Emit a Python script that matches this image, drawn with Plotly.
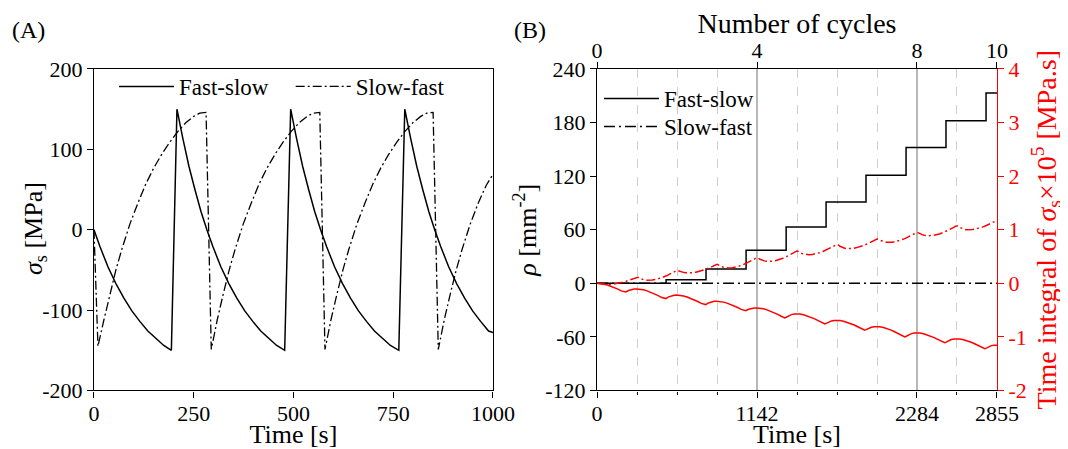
import plotly.graph_objects as go

# ---------------- Panel A data: sigma_s [MPa] vs time [s] ----------------
fs_time = [0, 15, 35, 55, 75, 95, 115, 135, 155, 175, 194,
           208, 223, 238, 253, 268, 283, 298, 318, 338, 358, 378, 398, 418, 438, 458, 478,
           493, 508, 523, 538, 553, 568, 583, 603, 623, 643, 663, 683, 703, 723, 743, 764,
           779, 794, 809, 824, 839, 854, 869, 889, 909, 929, 949, 969, 989, 1000]
fs_sigma = [0, -21, -46, -67, -85, -101, -114, -126, -135, -144, -150,
            150, 113, 79, 50, 23, 0, -21, -46, -67, -85, -101, -114, -126, -135, -144, -150,
            150, 113, 79, 50, 23, 0, -21, -46, -67, -85, -101, -114, -126, -135, -144, -150,
            150, 113, 79, 50, 23, 0, -21, -46, -67, -85, -101, -114, -126, -128]

sf_time = [0, 10, 25, 40, 55, 70, 90, 110, 130, 150, 170, 190, 210, 230, 250, 265, 275, 281,
           294, 309, 324, 339, 354, 374, 394, 414, 434, 454, 474, 494, 514, 534, 549, 559, 566,
           579, 594, 609, 624, 639, 659, 679, 699, 719, 739, 759, 779, 799, 819, 834, 844, 850,
           863, 878, 893, 908, 923, 943, 963, 983, 1000]
sf_sigma = [0, -145, -112, -80, -50, -24, 7, 33, 57, 77, 94, 109, 122, 133, 141, 145, 146, 146,
            -149, -112, -80, -50, -24, 7, 33, 57, 77, 94, 109, 122, 133, 141, 145, 146, 146,
            -149, -112, -80, -50, -24, 7, 33, 57, 77, 94, 109, 122, 133, 141, 145, 146, 146,
            -149, -112, -80, -50, -24, 7, 33, 55, 69]

# ---------------- Panel B data ----------------
# dislocation density rho [mm^-2] (step curve), fast-slow
rho_fs_time = [0, 493, 778, 1064, 1350, 1635, 1920, 2206, 2491, 2777, 2855]
rho_fs = [0, 4, 16, 37, 63, 91, 121, 152, 182, 213, 213]
# slow-fast stays at zero
rho_sf_time = [0, 2855]
rho_sf = [0, 0]

# time integral of sigma_s (x1e5 MPa.s), fast-slow (red solid)
int_fs_time = [0, 24, 50, 74, 99, 124, 149, 173, 198,
               205, 225, 245, 265, 281,
               306, 332, 357, 382, 408, 433, 458, 484,
               491, 511, 531, 551, 567,
               592, 618, 643, 668, 694, 719, 744, 769,
               776, 796, 816, 836, 852,
               877, 903, 928, 953, 979, 1004, 1029, 1055,
               1062, 1082, 1102, 1122, 1138,
               1163, 1189, 1214, 1239, 1265, 1290, 1315, 1340,
               1347, 1367, 1387, 1407, 1423,
               1448, 1474, 1499, 1524, 1550, 1575, 1600, 1626,
               1633, 1653, 1673, 1693, 1709,
               1734, 1760, 1785, 1810, 1836, 1861, 1886, 1911,
               1918, 1938, 1958, 1978, 1994,
               2019, 2045, 2070, 2095, 2121, 2146, 2171, 2197,
               2204, 2224, 2244, 2264, 2280,
               2305, 2331, 2356, 2381, 2407, 2432, 2457, 2482,
               2489, 2509, 2529, 2549, 2565,
               2590, 2616, 2641, 2666, 2692, 2717, 2742, 2768,
               2775, 2795, 2815, 2835, 2855]
int_fs = [0, -0.004, -0.015, -0.032, -0.054, -0.080, -0.109, -0.141, -0.168,
          -0.162, -0.134, -0.116, -0.107, -0.105,
          -0.109, -0.122, -0.141, -0.165, -0.194, -0.226, -0.261, -0.291,
          -0.285, -0.253, -0.233, -0.222, -0.220,
          -0.224, -0.237, -0.255, -0.279, -0.307, -0.339, -0.374, -0.403,
          -0.397, -0.366, -0.347, -0.337, -0.335,
          -0.339, -0.351, -0.370, -0.393, -0.421, -0.452, -0.486, -0.515,
          -0.510, -0.485, -0.469, -0.461, -0.459,
          -0.463, -0.476, -0.495, -0.519, -0.548, -0.580, -0.615, -0.645,
          -0.638, -0.605, -0.584, -0.572, -0.570,
          -0.574, -0.587, -0.606, -0.630, -0.659, -0.691, -0.727, -0.757,
          -0.751, -0.721, -0.702, -0.692, -0.690,
          -0.694, -0.707, -0.726, -0.750, -0.778, -0.810, -0.845, -0.875,
          -0.869, -0.838, -0.819, -0.809, -0.807,
          -0.812, -0.825, -0.844, -0.869, -0.899, -0.932, -0.969, -1.000,
          -0.993, -0.960, -0.939, -0.927, -0.925,
          -0.929, -0.942, -0.961, -0.985, -1.013, -1.045, -1.080, -1.110,
          -1.103, -1.070, -1.049, -1.038, -1.036,
          -1.040, -1.053, -1.071, -1.095, -1.124, -1.155, -1.190, -1.220,
          -1.214, -1.182, -1.163, -1.154, -1.155]

# time integral of sigma_s (x1e5 MPa.s), slow-fast (red dash-dot)
int_sf_time = [0, 6, 21, 36, 51, 66, 80,
               106, 131, 157, 182, 208, 233, 259, 278, 285,
               291.5, 306.5, 321.5, 336.5, 351.5, 370,
               395, 420, 445, 470, 495, 520, 545, 564, 571,
               577.5, 592.5, 607.5, 622.5, 637.5, 656,
               681, 706, 731, 756, 781, 806, 831, 850, 856,
               862.5, 877.5, 892.5, 907.5, 922.5, 941,
               966, 991, 1016, 1041, 1066, 1091, 1116, 1135, 1142,
               1148.5, 1163.5, 1178.5, 1193.5, 1208.5, 1227,
               1252, 1277, 1302, 1327, 1352, 1377, 1402, 1421, 1427,
               1433.5, 1448.5, 1463.5, 1478.5, 1493.5, 1512,
               1537, 1562, 1587, 1612, 1637, 1662, 1687, 1706, 1713,
               1719.5, 1734.5, 1749.5, 1764.5, 1779.5, 1798,
               1823, 1848, 1873, 1898, 1923, 1948, 1973, 1992, 1998,
               2004.5, 2019.5, 2034.5, 2049.5, 2064.5, 2083,
               2108, 2133, 2158, 2183, 2208, 2233, 2258, 2277, 2284,
               2290.5, 2305.5, 2320.5, 2335.5, 2350.5, 2369,
               2394, 2419, 2444, 2469, 2494, 2519, 2544, 2563, 2569,
               2575.5, 2590.5, 2605.5, 2620.5, 2635.5, 2654,
               2679, 2704, 2729, 2754, 2779, 2804, 2829, 2848, 2855]
int_sf = [0, -0.002, -0.011, -0.017, -0.022, -0.024, -0.025,
          -0.022, -0.013, 0.001, 0.019, 0.040, 0.064, 0.090, 0.115, 0.119,
          0.114, 0.092, 0.075, 0.064, 0.058, 0.056,
          0.060, 0.072, 0.089, 0.113, 0.140, 0.171, 0.205, 0.237, 0.242,
          0.238, 0.221, 0.209, 0.200, 0.196, 0.194,
          0.198, 0.207, 0.223, 0.243, 0.266, 0.293, 0.322, 0.350, 0.354,
          0.348, 0.325, 0.308, 0.296, 0.289, 0.287,
          0.291, 0.303, 0.322, 0.346, 0.374, 0.406, 0.441, 0.474, 0.479,
          0.473, 0.449, 0.431, 0.419, 0.412, 0.410,
          0.414, 0.426, 0.445, 0.469, 0.498, 0.530, 0.566, 0.599, 0.604,
          0.598, 0.574, 0.556, 0.544, 0.537, 0.535,
          0.539, 0.551, 0.570, 0.594, 0.622, 0.654, 0.689, 0.722, 0.727,
          0.720, 0.692, 0.671, 0.658, 0.650, 0.647,
          0.651, 0.662, 0.679, 0.702, 0.728, 0.758, 0.791, 0.823, 0.827,
          0.822, 0.800, 0.783, 0.772, 0.766, 0.764,
          0.768, 0.780, 0.797, 0.821, 0.848, 0.879, 0.913, 0.945, 0.950,
          0.945, 0.923, 0.908, 0.897, 0.891, 0.889,
          0.893, 0.905, 0.922, 0.946, 0.973, 1.004, 1.038, 1.070, 1.075,
          1.068, 1.042, 1.023, 1.010, 1.002, 1.000,
          1.004, 1.015, 1.031, 1.053, 1.079, 1.108, 1.140, 1.170, 1.174]

# axis ticks
a_xticks = [0, 250, 500, 750, 1000]
a_yticks = [-200, -100, 0, 100, 200]
b_xticks = [0, 1142, 2284, 2855]
b_xminor = [285.5, 571, 856.5, 1427.5, 1713, 1998.5, 2569.5]
b_yticks = [-120, -60, 0, 60, 120, 180, 240]
b_y2ticks = [-2, -1, 0, 1, 2, 3, 4]
cycle_ticks = [0, 4, 8, 10]


def labels(vals):
    return [str(v) for v in vals]  # plain ASCII hyphen for negatives


FONT = "Liberation Serif"
TICK = 22
TITLE = 26
DASHDOT = "9px,3px,2px,3px"
DASHDOT_B = "11px,4px,2px,4px"
NB = "\u00a0"

fig = go.Figure()

# Panel A
fig.add_trace(go.Scatter(x=fs_time, y=fs_sigma, mode="lines", name="Fast-slow" + NB * 3,
                         line=dict(color="black", width=1.5), xaxis="x", yaxis="y",
                         legend="legend"))
fig.add_trace(go.Scatter(x=sf_time, y=sf_sigma, mode="lines", name="Slow-fast",
                         line=dict(color="black", width=1.3, dash=DASHDOT), xaxis="x", yaxis="y",
                         legend="legend"))

# Panel B
fig.add_trace(go.Scatter(x=rho_fs_time, y=rho_fs, mode="lines", name="Fast-slow",
                         line=dict(color="black", width=1.5, shape="hv"), xaxis="x2", yaxis="y2",
                         legend="legend2"))
fig.add_trace(go.Scatter(x=rho_sf_time, y=rho_sf, mode="lines", name="Slow-fast",
                         line=dict(color="black", width=1.5, dash=DASHDOT_B), xaxis="x2", yaxis="y2",
                         legend="legend3"))
fig.add_trace(go.Scatter(x=int_fs_time, y=int_fs, mode="lines", showlegend=False,
                         line=dict(color="red", width=1.5), xaxis="x2", yaxis="y3"))
fig.add_trace(go.Scatter(x=int_sf_time, y=int_sf, mode="lines", showlegend=False,
                         line=dict(color="red", width=1.5, dash=DASHDOT), xaxis="x2", yaxis="y3"))
# carrier for the top "Number of cycles" axis
fig.add_trace(go.Scatter(x=[cycle_ticks[0], cycle_ticks[-1]], y=[0, 0], mode="lines",
                         opacity=0, showlegend=False, hoverinfo="skip",
                         line=dict(width=0), xaxis="x3", yaxis="y2"))

# page body has an 8px margin: figure is 1060x441 and placed at (8, 8)
ydom = [0.1327, 0.8617]
common = dict(showline=True, linecolor="black", linewidth=1.2, ticks="outside", ticklen=6,
              tickcolor="black", tickwidth=1.2, zeroline=False, showgrid=False,
              tickfont=dict(family=FONT, size=TICK, color="black"), automargin=False)
leg = dict(xanchor="left", yanchor="top", bgcolor="rgba(0,0,0,0)",
           font=dict(family=FONT, size=23), itemwidth=55, tracegroupgap=0, traceorder="normal")

fig.update_layout(
    width=1060, height=441,
    margin=dict(l=0, r=0, t=0, b=0),
    paper_bgcolor="white", plot_bgcolor="white",
    font=dict(family=FONT, color="black"),
    showlegend=True,
    xaxis=dict(domain=[0.0811, 0.4575], anchor="y", range=[0, 1000], tickvals=a_xticks,
               ticktext=labels(a_xticks), mirror=True, ticklabelstandoff=-3,
               title=dict(text="Time [s]", font=dict(size=TITLE), standoff=5), **common),
    yaxis=dict(domain=ydom, anchor="x", range=[-200, 200], tickvals=a_yticks,
               ticktext=labels(a_yticks), mirror=True, **common),
    xaxis2=dict(domain=[0.5557, 0.9330], anchor="y2", range=[0, 2855], tickvals=b_xticks,
                ticktext=labels(b_xticks),
                showgrid=True, gridcolor="#b8b8b8", gridwidth=1.5, ticklabelstandoff=-3,
                minor=dict(tickvals=b_xminor, ticks="outside", ticklen=3, tickcolor="black",
                           showgrid=True, gridcolor="#cfcfcf", gridwidth=1, griddash="dash"),
                title=dict(text="Time [s]", font=dict(size=TITLE), standoff=5),
                **{k: v for k, v in common.items() if k != "showgrid"}),
    yaxis2=dict(domain=ydom, anchor="x2", range=[-120, 240], tickvals=b_yticks,
                ticktext=labels(b_yticks),
                title=dict(text="<i>ρ</i> [mm<sup>-2</sup>]", font=dict(size=TITLE), standoff=1),
                **common),
    xaxis3=dict(overlaying="x2", anchor="y2", side="top", range=[0, 10], tickvals=cycle_ticks,
                ticktext=labels(cycle_ticks), ticklabelstandoff=-5,
                title=dict(text="Number of cycles", font=dict(size=28), standoff=0),
                **common),
    yaxis3=dict(overlaying="y2", anchor="x2", side="right", range=[-2, 4], tickvals=b_y2ticks,
                ticktext=labels(b_y2ticks),
                showline=True, linecolor="red", linewidth=1.2, ticks="outside", ticklen=6,
                tickcolor="red", tickwidth=1.2, zeroline=False, showgrid=False, automargin=False,
                tickfont=dict(family=FONT, size=TICK, color="red"),
                title=dict(text="Time integral of <i>σ</i><sub>s</sub>×10<sup>5</sup> [MPa.s]",
                           font=dict(size=28, color="red"), standoff=5)),
    legend=dict(orientation="h", x=0.100, y=0.8707, **leg),
    legend2=dict(orientation="v", x=0.5575, y=0.8436, **leg),
    legend3=dict(orientation="v", x=0.5575, y=0.7801, **leg),
    annotations=[
        dict(text="(A)", x=0.0189, y=0.950, xref="paper", yref="paper", showarrow=False,
             xanchor="center", yanchor="middle", font=dict(family=FONT, size=24)),
        dict(text="(B)", x=0.4925, y=0.950, xref="paper", yref="paper", showarrow=False,
             xanchor="center", yanchor="middle", font=dict(family=FONT, size=24)),
        dict(text="<i>σ</i><sub>s</sub> [MPa]", x=0.0255, y=0.4989, xref="paper", yref="paper",
             showarrow=False, textangle=-90, xanchor="center", yanchor="middle",
             font=dict(family=FONT, size=TITLE)),
    ],
)

fig.write_html("out.html")
